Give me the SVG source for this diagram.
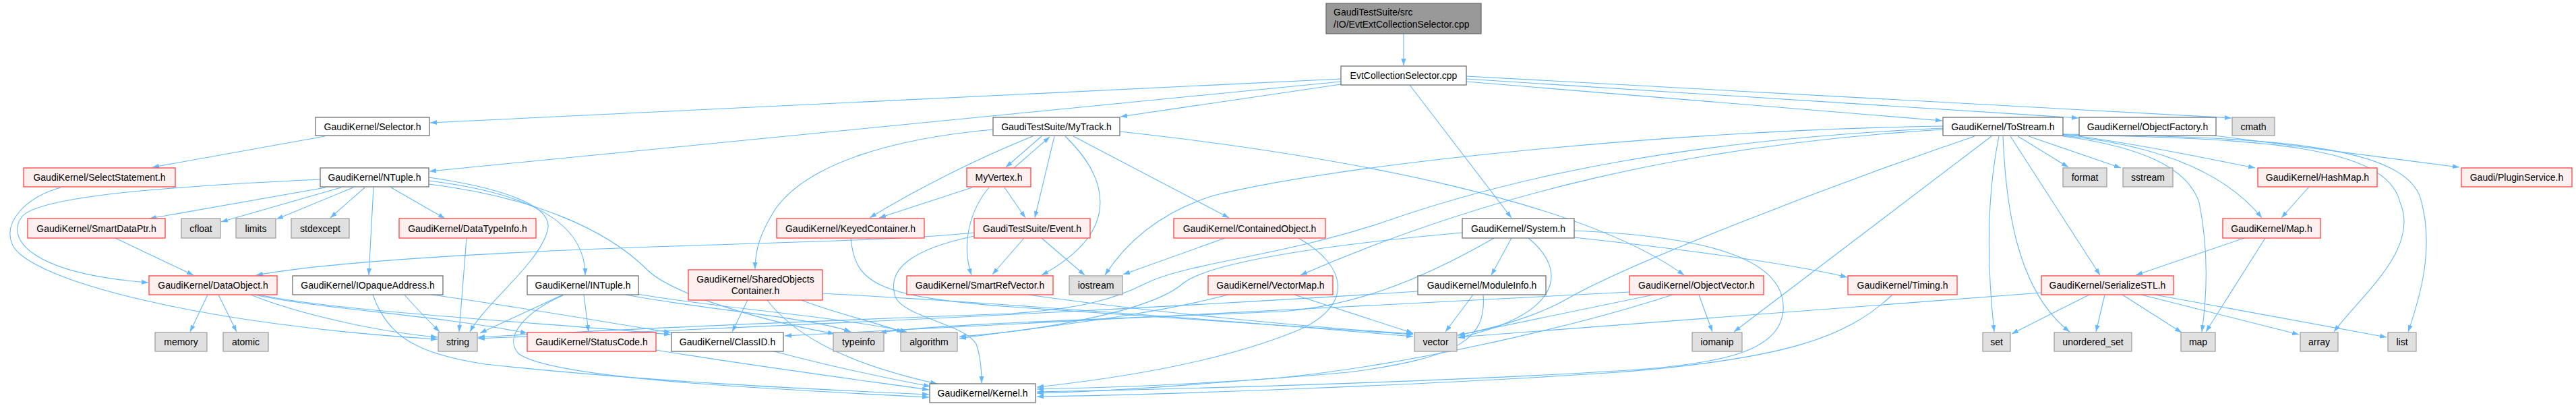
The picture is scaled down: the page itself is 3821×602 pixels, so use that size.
<svg xmlns="http://www.w3.org/2000/svg" width="3821" height="602" viewBox="0 0 3821 602">
<defs>
<marker id="ah" markerWidth="11" markerHeight="8" refX="10" refY="4" orient="auto" markerUnits="userSpaceOnUse"><path d="M0,0.5 L10,4 L0,7.5 z" fill="#63b8ff"/></marker>
<style>
.e path{fill:none;stroke:#63b8ff;stroke-width:1.1;marker-end:url(#ah)}
rect{stroke-width:1.2}
.w rect{fill:#ffffff;stroke:#666666}
.r rect{fill:#fff0f0;stroke:#ff3333}
.g rect{fill:#e0e0e0;stroke:#999999}
.t rect{fill:#999999;stroke:#666666}
text{font-family:"Liberation Sans",Arial,sans-serif;font-size:14px;fill:#000000}
.c{text-anchor:middle}
</style>
</defs>
<rect width="3821" height="602" fill="#ffffff"/>
<g id="edges" class="e">
<path d="M2082,50 L2082,97"/>
<path d="M1989,117 L638,182"/>
<path d="M1989,121 L637,254"/>
<path d="M1989,125 L1662,173"/>
<path d="M2175,121 L2881,179"/>
<path d="M2175,117 L3083,175"/>
<path d="M2175,113 L3310,175"/>
<path d="M2091,126 L2242,323"/>
<path d="M482,202 L226,248"/>
<path d="M90,278 C40,292 4,328 18,362 C40,415 300,482 649,503"/>
<path d="M475,266 C260,276 55,290 32,322 C10,352 40,405 220,419"/>
<path d="M483,278 L222,324"/>
<path d="M506,278 L328,329"/>
<path d="M524,278 L410,325"/>
<path d="M541,278 L490,323"/>
<path d="M554,278 L547,408"/>
<path d="M580,278 L660,324"/>
<path d="M636,263 C720,275 825,300 812,342 C800,390 720,450 697,492"/>
<path d="M636,268 C750,282 868,315 868,408"/>
<path d="M636,273 C790,292 900,340 960,400 C990,430 1100,470 1238,495"/>
<path d="M171,353 L287,408"/>
<path d="M692,353 L681,492"/>
<path d="M308,437 L282,492"/>
<path d="M324,437 L351,492"/>
<path d="M372,437 C440,465 560,492 649,500"/>
<path d="M378,437 C470,458 640,466 782,494"/>
<path d="M384,437 C500,462 800,478 995,496"/>
<path d="M640,437 C750,452 900,478 995,493"/>
<path d="M600,437 C620,460 640,480 652,492"/>
<path d="M553,437 C575,500 620,525 720,540 C950,565 1200,577 1378,585"/>
<path d="M835,437 L712,494"/>
<path d="M835,438 C780,462 745,500 770,525 C820,560 1100,575 1378,589"/>
<path d="M866,437 L873,492"/>
<path d="M928,437 C1050,460 1200,470 1262,492"/>
<path d="M946,436 C1050,455 1250,470 1345,492"/>
<path d="M973,519 C1100,540 1250,560 1378,578"/>
<path d="M1148,521 C1220,540 1300,558 1380,573"/>
<path d="M1109,445 L1086,492"/>
<path d="M1138,445 C1180,500 1260,540 1390,569"/>
<path d="M1189,445 C1230,462 1300,478 1340,493"/>
<path d="M1220,435 C1500,450 1900,482 2096,499"/>
<path d="M1262,353 C1268,420 1300,440 1500,455 C1800,475 2000,488 2096,496"/>
<path d="M1445,345 C1350,355 1200,358 1000,365 C700,375 480,390 380,408"/>
<path d="M1445,350 C1350,370 1315,400 1328,440 C1340,470 1430,480 1448,510 C1455,530 1456,550 1456,568"/>
<path d="M1519,353 L1472,407"/>
<path d="M1545,353 L1609,408"/>
<path d="M1504,249 L1557,203"/>
<path d="M1545,202 L1492,248"/>
<path d="M1532,202 C1450,235 1360,280 1290,323"/>
<path d="M1442,278 L1304,323"/>
<path d="M1467,278 C1440,310 1425,360 1441,408"/>
<path d="M1490,278 L1521,323"/>
<path d="M1564,202 L1535,323"/>
<path d="M1580,202 C1640,260 1670,340 1545,408"/>
<path d="M1592,202 L1823,323"/>
<path d="M1661,195 C2000,232 2350,300 2498,408"/>
<path d="M1473,192 C1330,205 1200,240 1150,310 C1128,345 1120,370 1120,399"/>
<path d="M1817,353 L1666,407"/>
<path d="M1926,353 C2000,395 2010,455 1920,492 C1800,540 1650,562 1538,574"/>
<path d="M2242,353 L2212,408"/>
<path d="M2267,353 C2325,400 2320,465 2163,501"/>
<path d="M2335,342 C2520,350 2650,380 2645,460 C2640,520 2560,540 2400,550 C2100,568 1700,578 1538,581"/>
<path d="M2335,352 C2500,370 2650,390 2740,411"/>
<path d="M2169,345 C2000,360 1800,385 1755,420 C1710,460 1550,490 1423,499"/>
<path d="M2216,353 C2100,420 2000,455 1900,462 C1600,475 1400,480 1305,493"/>
<path d="M2882,187 C2500,193 2000,240 1800,290 C1720,315 1670,360 1639,408"/>
<path d="M2882,190 C2500,208 2250,260 2050,330 C1900,380 1760,390 1700,420 C1650,445 1600,458 1500,465 C1100,480 850,492 709,500"/>
<path d="M2882,192 C2500,215 2200,290 1929,408"/>
<path d="M2929,202 C2700,280 2420,390 2330,440 C2280,470 2210,488 2162,497"/>
<path d="M2954,202 L2572,492"/>
<path d="M2965,202 C2945,300 2948,400 2958,492"/>
<path d="M2971,202 C2975,300 2990,430 3070,492"/>
<path d="M2982,202 L3115,408"/>
<path d="M2993,202 L3068,248"/>
<path d="M3009,202 L3146,249"/>
<path d="M3060,199 C3150,210 3250,230 3345,249"/>
<path d="M3060,202 C3180,218 3245,250 3262,300 C3278,380 3272,450 3266,492"/>
<path d="M3060,201 C3200,215 3300,255 3355,323"/>
<path d="M3060,200 C3350,205 3540,215 3560,300 C3590,370 3500,440 3462,492"/>
<path d="M3060,199 C3370,203 3575,215 3592,300 C3610,370 3590,440 3572,492"/>
<path d="M3285,201 L3648,248"/>
<path d="M3425,277 L3384,323"/>
<path d="M3329,353 L3168,408"/>
<path d="M3360,353 L3272,492"/>
<path d="M3028,434 C2700,458 2400,482 2163,500"/>
<path d="M3099,437 L2984,495"/>
<path d="M3122,437 L3109,492"/>
<path d="M3148,437 L3236,493"/>
<path d="M3176,437 L3410,496"/>
<path d="M3196,437 L3540,500"/>
<path d="M1920,437 L2096,494"/>
<path d="M1821,437 C1700,470 1500,490 1423,502"/>
<path d="M2185,437 L2144,492"/>
<path d="M2200,437 C2205,500 2170,530 2000,552 C1800,570 1650,575 1538,577"/>
<path d="M2103,432 C1900,445 1500,470 709,502"/>
<path d="M2417,433 C2000,455 1500,480 1164,498"/>
<path d="M2453,437 L2163,497"/>
<path d="M2481,437 C2350,480 2100,540 1900,560 C1750,572 1650,580 1538,583"/>
<path d="M2520,437 L2540,492"/>
<path d="M2807,437 C2740,500 2650,532 2400,552 C2100,572 1700,586 1538,588"/>
<path d="M1525,437 C1700,462 1950,486 2096,495"/>
</g>
<g id="n_top" class="t"><rect x="1967" y="5" width="230" height="45"/><text x="1978" y="23">GaudiTestSuite/src</text><text x="1978" y="40.5">/IO/EvtExtCollectionSelector.cpp</text></g>
<g id="n_ecs" class="w"><rect x="1989" y="98" width="186" height="28"/><text class="c" x="2082" y="117">EvtCollectionSelector.cpp</text></g>
<g id="n_selector" class="w"><rect x="468" y="174" width="169" height="27"/><text class="c" x="552.5" y="192.5">GaudiKernel/Selector.h</text></g>
<g id="n_mytrack" class="w"><rect x="1473" y="174" width="188" height="27"/><text class="c" x="1567" y="192.5">GaudiTestSuite/MyTrack.h</text></g>
<g id="n_tostream" class="w"><rect x="2882" y="174" width="178" height="27"/><text class="c" x="2971" y="192.5">GaudiKernel/ToStream.h</text></g>
<g id="n_objectfactory" class="w"><rect x="3084" y="174" width="203" height="27"/><text class="c" x="3185.5" y="192.5">GaudiKernel/ObjectFactory.h</text></g>
<g id="n_cmath" class="g"><rect x="3311" y="174" width="63" height="27"/><text class="c" x="3342.5" y="192.5">cmath</text></g>
<g id="n_selectstatement" class="r"><rect x="35" y="249" width="225" height="28"/><text class="c" x="147.5" y="268">GaudiKernel/SelectStatement.h</text></g>
<g id="n_ntuple" class="w"><rect x="475" y="249" width="161" height="28"/><text class="c" x="555.5" y="268">GaudiKernel/NTuple.h</text></g>
<g id="n_myvertex" class="r"><rect x="1434" y="249" width="95" height="28"/><text class="c" x="1481.5" y="268">MyVertex.h</text></g>
<g id="n_format" class="g"><rect x="3060" y="249" width="65" height="28"/><text class="c" x="3092.5" y="268">format</text></g>
<g id="n_sstream" class="g"><rect x="3149" y="249" width="74" height="28"/><text class="c" x="3186" y="268">sstream</text></g>
<g id="n_hashmap" class="r"><rect x="3349" y="249" width="177" height="28"/><text class="c" x="3437.5" y="268">GaudiKernel/HashMap.h</text></g>
<g id="n_pluginservice" class="r"><rect x="3651" y="249" width="164" height="28"/><text class="c" x="3733" y="268">Gaudi/PluginService.h</text></g>
<g id="n_smartdataptr" class="r"><rect x="41" y="324" width="204" height="29"/><text class="c" x="143" y="343.5">GaudiKernel/SmartDataPtr.h</text></g>
<g id="n_cfloat" class="g"><rect x="269" y="324" width="58" height="29"/><text class="c" x="298" y="343.5">cfloat</text></g>
<g id="n_limits" class="g"><rect x="350" y="324" width="59" height="29"/><text class="c" x="379.5" y="343.5">limits</text></g>
<g id="n_stdexcept" class="g"><rect x="432" y="324" width="86" height="29"/><text class="c" x="475" y="343.5">stdexcept</text></g>
<g id="n_datatypeinfo" class="r"><rect x="592" y="324" width="203" height="29"/><text class="c" x="693.5" y="343.5">GaudiKernel/DataTypeInfo.h</text></g>
<g id="n_keyedcontainer" class="r"><rect x="1152" y="324" width="219" height="29"/><text class="c" x="1261.5" y="343.5">GaudiKernel/KeyedContainer.h</text></g>
<g id="n_event" class="r"><rect x="1445" y="324" width="172" height="29"/><text class="c" x="1531" y="343.5">GaudiTestSuite/Event.h</text></g>
<g id="n_containedobject" class="r"><rect x="1741" y="324" width="225" height="29"/><text class="c" x="1853.5" y="343.5">GaudiKernel/ContainedObject.h</text></g>
<g id="n_system" class="w"><rect x="2169" y="324" width="166" height="29"/><text class="c" x="2252" y="343.5">GaudiKernel/System.h</text></g>
<g id="n_map_h" class="r"><rect x="3297" y="324" width="145" height="29"/><text class="c" x="3369.5" y="343.5">GaudiKernel/Map.h</text></g>
<g id="n_dataobject" class="r"><rect x="221" y="409" width="190" height="28"/><text class="c" x="316" y="428">GaudiKernel/DataObject.h</text></g>
<g id="n_iopaqueaddress" class="w"><rect x="434" y="409" width="223" height="28"/><text class="c" x="545.5" y="428">GaudiKernel/IOpaqueAddress.h</text></g>
<g id="n_intuple" class="w"><rect x="782" y="409" width="165" height="28"/><text class="c" x="864.5" y="428">GaudiKernel/INTuple.h</text></g>
<g id="n_sharedobjects" class="r"><rect x="1021" y="400" width="199" height="45"/><text class="c" x="1120.5" y="419">GaudiKernel/SharedObjects</text><text class="c" x="1120.5" y="436">Container.h</text></g>
<g id="n_smartrefvector" class="r"><rect x="1345" y="409" width="217" height="28"/><text class="c" x="1453.5" y="428">GaudiKernel/SmartRefVector.h</text></g>
<g id="n_iostream" class="g"><rect x="1586" y="409" width="79" height="28"/><text class="c" x="1625.5" y="428">iostream</text></g>
<g id="n_vectormap" class="r"><rect x="1792" y="409" width="185" height="28"/><text class="c" x="1884.5" y="428">GaudiKernel/VectorMap.h</text></g>
<g id="n_moduleinfo" class="w"><rect x="2103" y="409" width="190" height="28"/><text class="c" x="2198" y="428">GaudiKernel/ModuleInfo.h</text></g>
<g id="n_objectvector" class="r"><rect x="2417" y="409" width="199" height="28"/><text class="c" x="2516.5" y="428">GaudiKernel/ObjectVector.h</text></g>
<g id="n_timing" class="r"><rect x="2741" y="409" width="162" height="28"/><text class="c" x="2822" y="428">GaudiKernel/Timing.h</text></g>
<g id="n_serializestl" class="r"><rect x="3028" y="409" width="196" height="28"/><text class="c" x="3126" y="428">GaudiKernel/SerializeSTL.h</text></g>
<g id="n_memory" class="g"><rect x="230" y="493" width="77" height="28"/><text class="c" x="268.5" y="512">memory</text></g>
<g id="n_atomic" class="g"><rect x="331" y="493" width="67" height="28"/><text class="c" x="364.5" y="512">atomic</text></g>
<g id="n_string" class="g"><rect x="650" y="493" width="58" height="28"/><text class="c" x="679" y="512">string</text></g>
<g id="n_statuscode" class="r"><rect x="782" y="493" width="191" height="28"/><text class="c" x="877.5" y="512">GaudiKernel/StatusCode.h</text></g>
<g id="n_classid" class="w"><rect x="996" y="493" width="166" height="28"/><text class="c" x="1079" y="512">GaudiKernel/ClassID.h</text></g>
<g id="n_typeinfo" class="g"><rect x="1236" y="493" width="75" height="28"/><text class="c" x="1273.5" y="512">typeinfo</text></g>
<g id="n_algorithm" class="g"><rect x="1336" y="493" width="84" height="28"/><text class="c" x="1378" y="512">algorithm</text></g>
<g id="n_vector" class="g"><rect x="2098" y="493" width="63" height="28"/><text class="c" x="2129.5" y="512">vector</text></g>
<g id="n_iomanip" class="g"><rect x="2510" y="493" width="74" height="28"/><text class="c" x="2547" y="512">iomanip</text></g>
<g id="n_set" class="g"><rect x="2941" y="493" width="41" height="28"/><text class="c" x="2961.5" y="512">set</text></g>
<g id="n_unordered_set" class="g"><rect x="3047" y="493" width="115" height="28"/><text class="c" x="3104.5" y="512">unordered_set</text></g>
<g id="n_map" class="g"><rect x="3235" y="493" width="51" height="28"/><text class="c" x="3260.5" y="512">map</text></g>
<g id="n_array" class="g"><rect x="3412" y="493" width="56" height="28"/><text class="c" x="3440" y="512">array</text></g>
<g id="n_list" class="g"><rect x="3542" y="493" width="42" height="28"/><text class="c" x="3563" y="512">list</text></g>
<g id="n_kernel" class="w"><rect x="1379" y="569" width="157" height="28"/><text class="c" x="1457.5" y="588">GaudiKernel/Kernel.h</text></g>
</svg>
